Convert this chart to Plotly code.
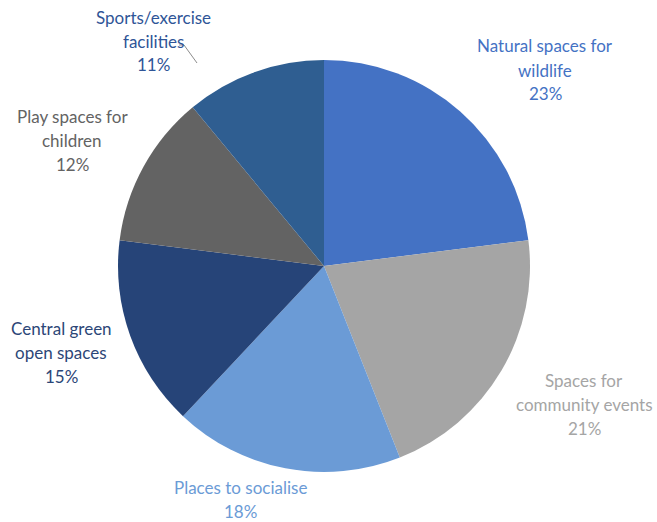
import math
import plotly.graph_objects as go

W, H = 657, 522

categories = ["Natural spaces for wildlife", "Spaces for community events",
              "Places to socialise", "Central green open spaces",
              "Play spaces for children", "Sports/exercise facilities"]
values = [23, 21, 18, 15, 12, 11]
label_lines = [["Natural spaces for", "wildlife"],
               ["Spaces for", "community events"],
               ["Places to socialise"],
               ["Central green", "open spaces"],
               ["Play spaces for", "children"],
               ["Sports/exercise", "facilities"]]

colors = ["#4472C4", "#A5A5A5", "#6B9BD6", "#264478", "#636363", "#2F5E91"]
text_colors = ["#4472C4", "#A5A5A5", "#6B9BD6", "#2C4677", "#636363", "#2F5597"]

# label block centres (pixels, top line y)
label_pos = [(545, 46), (584, 380), (240, 487), (61, 328), (72, 116), (153, 17)]
line_gap = 24

cx, cy, r = 324, 266, 206

fig = go.Figure(go.Pie(
    labels=categories, values=values, sort=False, direction="clockwise",
    rotation=0, textinfo="none", hoverinfo="label+percent",
    marker=dict(colors=colors, line=dict(width=0)),
    domain=dict(x=[(cx - r) / W, (cx + r) / W], y=[1 - (cy + r) / H, 1 - (cy - r) / H]),
    showlegend=False,
))

total = sum(values)
annotations = []
for lines, v, (px, py), col in zip(label_lines, values, label_pos, text_colors):
    pct = f"{round(100 * v / total)}%"
    for i, t in enumerate(lines + [pct]):
        annotations.append(dict(
            x=px / W, y=1 - (py + i * line_gap) / H, xref="paper", yref="paper",
            text=t, showarrow=False, xanchor="center", yanchor="middle",
            font=dict(family="Lato, sans-serif", size=17, color=col)))

# leader line for the sports label
path_pts = [(179, 45), (184, 45), (197, 63)]
path = "M " + " L ".join(f"{x / W},{1 - y / H}" for x, y in path_pts)
fig.update_layout(
    width=W, height=H, margin=dict(l=0, r=0, t=0, b=0),
    paper_bgcolor="white", plot_bgcolor="white",
    annotations=annotations,
    shapes=[dict(type="path", path=path, xref="paper", yref="paper",
                 line=dict(color="#8C8C8C", width=1))],
)
fig.write_html("out.html")
